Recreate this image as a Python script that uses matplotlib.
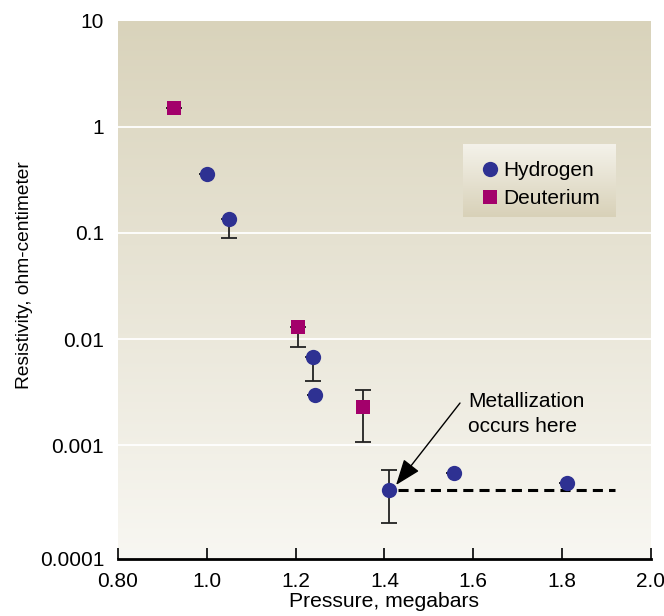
import numpy as np
import matplotlib
matplotlib.use("Agg")
import matplotlib.pyplot as plt
import matplotlib.transforms as mtransforms
from matplotlib.colors import LinearSegmentedColormap

plt.rcParams['font.family'] = ['Liberation Sans', 'DejaVu Sans']

# hydrogen points (pressure in megabars, resistivity in ohm-cm)
h_x = [1.00, 1.05, 1.238, 1.243, 1.411, 1.557, 1.811]
h_y = [0.36, 0.1355, 0.00676, 0.00296, 0.000376, 0.000544, 0.000438]
h_lo = [None, 0.0897, 0.00402, None, 0.000184, None, None]
h_hi = [None, 0.1355, 0.00676, None, 0.00058, None, None]

# deuterium points
d_x = [0.926, 1.2045, 1.351]
d_y = [1.51, 0.01298, 0.00228]
d_lo = [None, 0.0084, 0.00107]
d_hi = [None, 0.01298, 0.0033]

metal_x = [1.43, 1.92]
metal_y = 0.000376

H_COLOR = '#2e3192'
D_COLOR = '#a3006b'
FS = 15


def err_arrays(ys, lo, hi):
    low = [y - l if l is not None else 0 for y, l in zip(ys, lo)]
    up = [h - y if h is not None else 0 for y, h in zip(ys, hi)]
    return np.array([low, up])


fig = plt.figure(figsize=(6.64, 6.16), dpi=100)
ax = fig.add_axes([0.1777, 0.0925, 0.8027, 0.8735])
ax.set_yscale('log')
ax.set_xlim(0.8, 2.0)
ax.set_ylim(10 ** -4.075, 10)

# background gradient
bg = LinearSegmentedColormap.from_list('bg', ['#f8f7f2', '#d9d3bb'])
grad = np.linspace(0, 1, 256).reshape(-1, 1)
ax.imshow(grad, cmap=bg, aspect='auto', origin='lower', extent=[0, 1, 0, 1],
          transform=ax.transAxes, zorder=0)

for dec in [1, 0.1, 0.01, 0.001]:
    ax.axhline(dec, color='white', lw=1.3, zorder=1)

# error bars
h_err = err_arrays(h_y, h_lo, h_hi)
d_err = err_arrays(d_y, d_lo, d_hi)
ax.errorbar(h_x, h_y, yerr=h_err, fmt='none', ecolor='#222222', elinewidth=1.3,
            capsize=6, capthick=1.3, zorder=2)
ax.errorbar(d_x, d_y, yerr=d_err, fmt='none', ecolor='#222222', elinewidth=1.3,
            capsize=6, capthick=1.3, zorder=2)

ax.plot(metal_x, [metal_y, metal_y], color='black', lw=2.2,
        linestyle=(0, (3.3, 2)), zorder=2)

ax.plot(h_x, h_y, 'o', color=H_COLOR, markersize=11, markeredgewidth=0,
        label='Hydrogen', zorder=3)
ax.plot(d_x, d_y, 's', color=D_COLOR, markersize=10, markeredgewidth=0,
        label='Deuterium', zorder=3)

# legend box with its own gradient
lg = LinearSegmentedColormap.from_list('lg', ['#d8d1b8', '#f4f2ea'])
ax.imshow(grad, cmap=lg, aspect='auto', origin='lower',
          extent=[0.647, 0.934, 0.636, 0.770], transform=ax.transAxes, zorder=1)
leg = ax.legend(loc='upper left', bbox_to_anchor=(0.6635, 0.755), frameon=False,
                fontsize=FS, handletextpad=0.12, labelspacing=0.45,
                handlelength=1.0, borderaxespad=0)

# annotation: text and arrow drawn separately
ax.text(1.588, 0.00196, 'Metallization\noccurs here', fontsize=FS,
        va='center', ha='left', linespacing=1.45, zorder=4)
ax.annotate('', xy=(1.426, 0.00042), xytext=(1.570, 0.00249),
            arrowprops=dict(arrowstyle='-|>,head_length=0.8,head_width=0.3',
                            mutation_scale=20, color='black', lw=1,
                            shrinkA=0, shrinkB=0),
            zorder=4)

for s in ['top', 'right', 'left']:
    ax.spines[s].set_visible(False)
ax.spines['bottom'].set_linewidth(2)

ax.set_xticks([0.8, 1.0, 1.2, 1.4, 1.6, 1.8, 2.0])
ax.set_xticklabels(['0.80', '1.0', '1.2', '1.4', '1.6', '1.8', '2.0'])
ax.set_yticks([1e-4, 1e-3, 1e-2, 1e-1, 1, 10])
ax.set_yticklabels(['0.0001', '0.001', '0.01', '0.1', '1', '10'])
ax.yaxis.set_minor_locator(matplotlib.ticker.NullLocator())
ax.tick_params(axis='x', direction='in', length=8, width=1.2, labelsize=FS, pad=9)
ax.tick_params(axis='y', length=0, labelsize=FS, pad=10)

# the lowest label sits on the axis line in the original
lowest = ax.get_yticklabels()[0]
lowest.set_transform(lowest.get_transform() +
                     mtransforms.ScaledTranslation(0, -7 / 100, fig.dpi_scale_trans))

ax.set_xlabel('Pressure, megabars', fontsize=15.2, labelpad=1)
ax.set_ylabel('Resistivity, ohm-centimeter', fontsize=13.8)
ax.yaxis.set_label_coords(-0.159, 0.528)

fig.savefig('out.png', dpi=100)
